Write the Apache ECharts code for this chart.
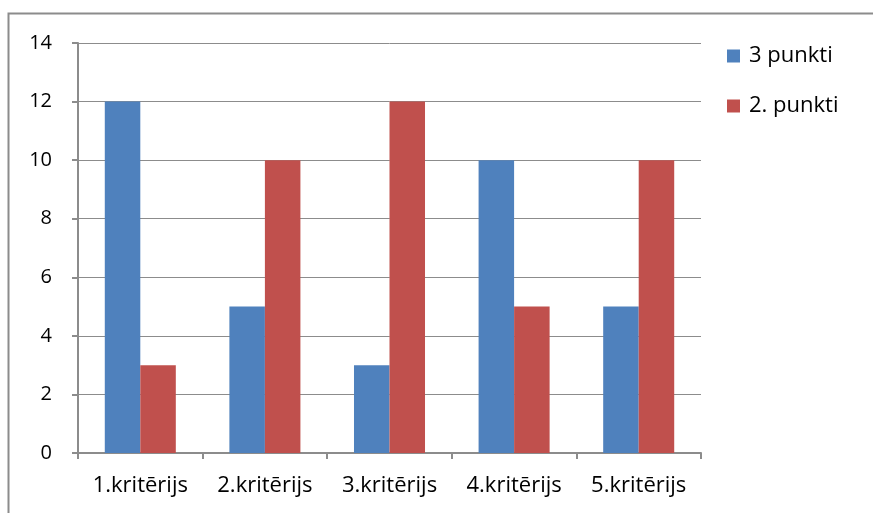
<!DOCTYPE html>
<html>
<head>
<meta charset="utf-8">
<script src="https://cdn.jsdelivr.net/npm/echarts@6/dist/echarts.min.js"></script>
<style>
  html, body { margin: 0; padding: 0; background: #fff; }
  #chart { width: 873px; height: 513px; }
</style>
</head>
<body>
<div id="chart"></div>
<script>
// Criteria and point counts per criterion
const categories = ['1.kritērijs', '2.kritērijs', '3.kritērijs', '4.kritērijs', '5.kritērijs'];
const seriesNames = ['3 punkti', '2. punkti'];
const points3 = [12, 5, 3, 10, 5];
const points2 = [3, 10, 12, 5, 10];

const FONT = '"Open Sans", Lato, sans-serif';
const chart = echarts.init(document.getElementById('chart'), null, { renderer: 'canvas' });

chart.setOption({
  animation: false,
  backgroundColor: '#fff',
  graphic: [{
    type: 'rect',
    shape: { x: 8.5, y: 13.5, width: 900, height: 600 },
    style: { fill: 'none', stroke: '#8c8c8c', lineWidth: 2 },
    silent: true
  }],
  grid: { left: 78, right: 172, top: 43, bottom: 60, containLabel: false },
  legend: {
    orient: 'vertical',
    left: 722,
    top: 40,
    itemWidth: 13,
    itemHeight: 13,
    itemGap: 28,
    icon: 'rect',
    textStyle: { fontFamily: FONT, fontSize: 22, color: '#000', padding: [0, 0, 0, 4] },
    data: seriesNames
  },
  xAxis: {
    type: 'category',
    data: categories,
    axisLine: { lineStyle: { color: '#8c8c8c', width: 2 } },
    axisTick: { show: true, length: 6, lineStyle: { color: '#8c8c8c', width: 2 } },
    axisLabel: { fontFamily: FONT, fontSize: 22, color: '#000', margin: 22, interval: 0 }
  },
  yAxis: {
    type: 'value',
    min: 0,
    max: 14,
    interval: 2,
    axisLine: { show: true, lineStyle: { color: '#8c8c8c', width: 2 } },
    axisTick: { show: true, length: 6, lineStyle: { color: '#8c8c8c', width: 2 } },
    axisLabel: { fontFamily: FONT, fontSize: 20, color: '#000', margin: 26 },
    splitLine: { lineStyle: { color: '#8c8c8c', width: 1 } }
  },
  series: [
    {
      name: seriesNames[0],
      type: 'bar',
      data: points3,
      itemStyle: { color: '#4F81BD' },
      barGap: '0%',
      barCategoryGap: '43%'
    },
    {
      name: seriesNames[1],
      type: 'bar',
      data: points2,
      itemStyle: { color: '#C0504D' },
      barGap: '0%',
      barCategoryGap: '43%'
    }
  ]
});
</script>
</body>
</html>
